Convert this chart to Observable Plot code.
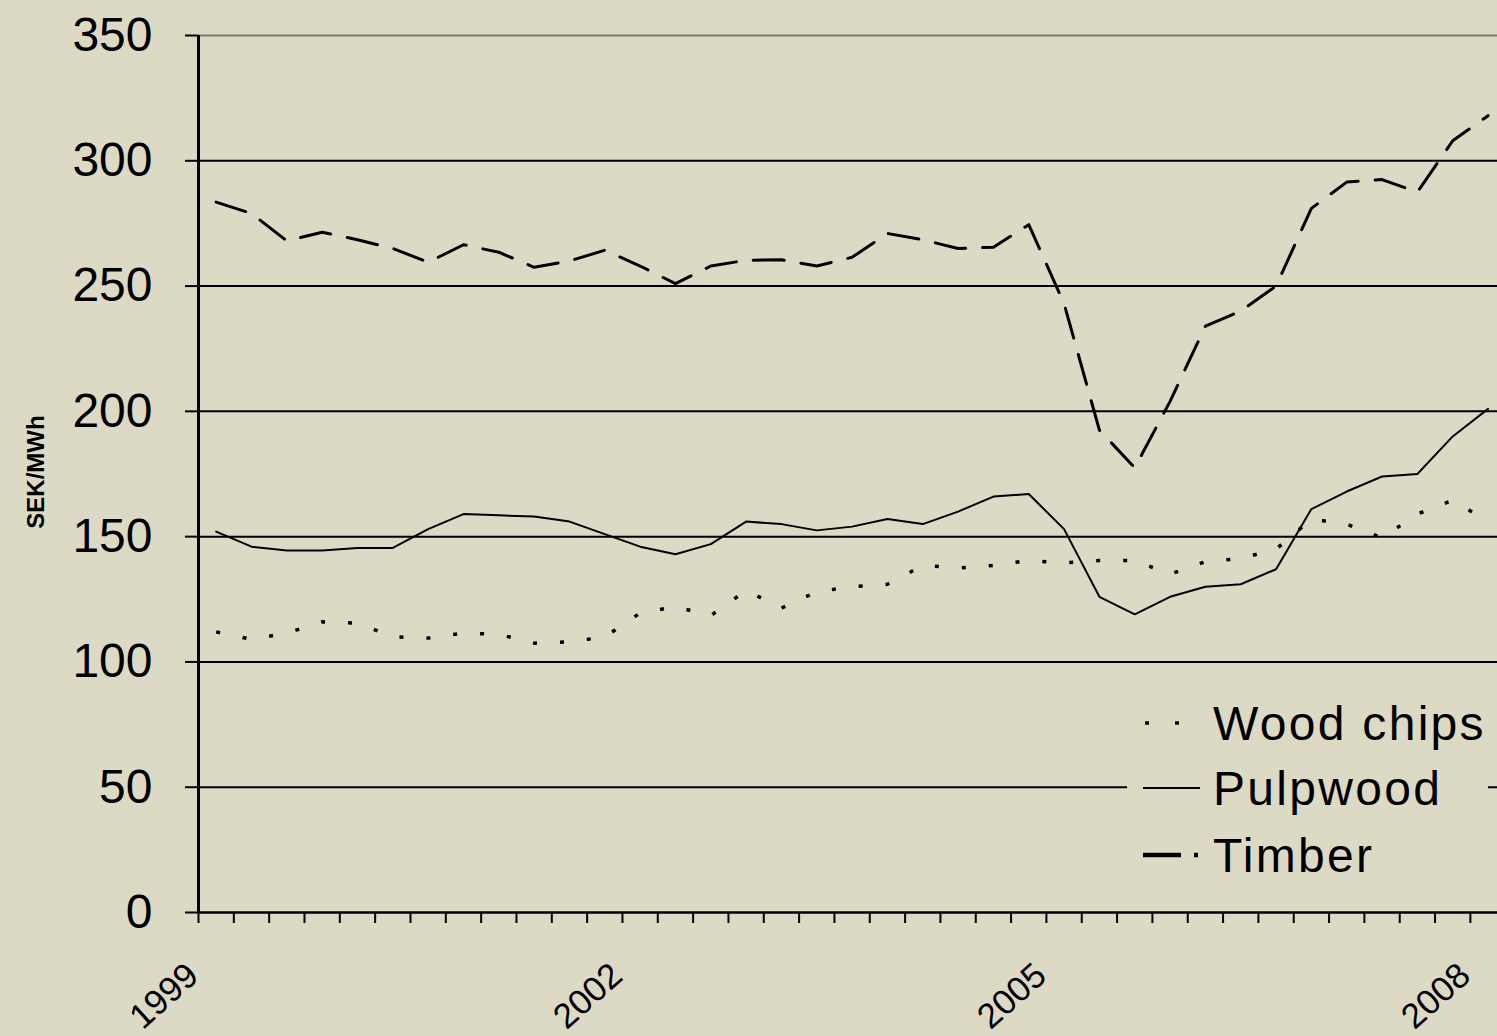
<!DOCTYPE html>
<html><head><meta charset="utf-8">
<script src="https://cdn.jsdelivr.net/npm/d3@7"></script>
<script src="https://cdn.jsdelivr.net/npm/@observablehq/plot@0.6"></script>
<style>
html,body{margin:0;padding:0;background:#dcdac5;overflow:hidden}
#chart{position:relative;width:1497px;height:1036px}
</style></head><body><div id="chart"></div>
<script>
// Quarterly index: 0 = 1999 Q1 ... 36 = 2008 Q1
const quarters = d3.range(37);
const yearLabels = ["1999", "2002", "2005", "2008"];
const yearTickQuarter = [0, 12, 24, 36];
const yTicks = [0, 50, 100, 150, 200, 250, 300, 350];
const seriesNames = ["Wood chips", "Pulpwood", "Timber"];

const woodChips = [112, 109, 111.5, 116, 115.5, 110, 109.5, 111.5, 111, 107.5, 108, 110, 119.5, 122, 118.5, 128.5, 121.5, 128, 130, 131, 138.5, 137.5, 138.5, 140.5, 139.5, 140.5, 140.5, 135, 140, 141.3, 145, 157, 155, 149.5, 159, 164.5, 156];
const pulpwood = [152, 146, 144.5, 144.5, 145.5, 145.5, 153, 159, 158.5, 158, 156, 151, 146, 143, 147, 156, 155, 152.5, 154, 157, 155, 160, 166, 167, 153, 126, 119, 126, 130, 131, 137, 161, 168, 174, 175, 190, 201];
const timber = [283.5, 279, 268, 271.5, 268.5, 265, 259.5, 266.5, 263.5, 257.5, 260, 264.3, 258, 251, 258, 260.3, 260.5, 258, 261.5, 271, 268.5, 265, 265.5, 274.5, 243, 192.5, 177.5, 204, 234, 240, 250, 281, 291.5, 292.5, 287.5, 308, 318];

const bg = "#dcdac5";
const font = "'Liberation Sans', Arial, sans-serif";
const toRows = (vals, name) => vals.map((v, i) => ({q: quarters[i] + 0.5, v, series: name}));

const plot = Plot.plot({
  width: 1497, height: 1036,
  marginLeft: 198, marginRight: 0, marginTop: 35, marginBottom: 124,
  style: {background: "transparent", fontFamily: font, color: "#000"},
  x: {domain: [0, 1299 / 35.33], axis: null},
  y: {domain: [0, 350], axis: null},
  marks: [
    Plot.ruleY(yTicks.filter(d => d > 0 && d < 350), {stroke: "#000", strokeWidth: 2}),
    Plot.ruleY([350], {stroke: "#7a7a72", strokeWidth: 2}),
    Plot.axisY({ticks: yTicks, tickSize: 13, tickPadding: 33, fontSize: 48, strokeWidth: 2, label: null, tickFormat: d => String(d)}),
    Plot.axisX({ticks: d3.range(0, 37), tickSize: 11, tickPadding: 0, strokeWidth: 2, tickFormat: () => "", label: null}),
    Plot.ruleY([0], {stroke: "#000", strokeWidth: 2.5}),
    Plot.ruleX([0], {stroke: "#000", strokeWidth: 3}),
    Plot.text(yearTickQuarter, {x: d => d, text: (d, i) => yearLabels[i], frameAnchor: "bottom", dy: 66, dx: 2, rotate: -42, textAnchor: "end", lineAnchor: "bottom", fontSize: 35}),
    Plot.text(["SEK/MWh"], {text: d => d, frameAnchor: "left", dx: -155, dy: -2, rotate: -90, fontSize: 24, fontWeight: "bold", textAnchor: "middle", lineAnchor: "bottom"}),
    Plot.line(toRows(woodChips, seriesNames[0]), {x: "q", y: "v", stroke: "#000", strokeWidth: 3.5, strokeDasharray: "4,23", strokeLinecap: "butt", clip: true}),
    Plot.line(toRows(pulpwood, seriesNames[1]), {x: "q", y: "v", stroke: "#000", strokeWidth: 2, clip: true}),
    Plot.line(toRows(timber, seriesNames[2]), {x: "q", y: "v", stroke: "#000", strokeWidth: 3, strokeDasharray: "31,17", clip: true})
  ]
});
document.getElementById("chart").appendChild(plot);

// Legend inside the plot area (lower right)
const svg = d3.select(plot);
const lg = svg.append("g").attr("font-family", font).attr("text-anchor", "start");
lg.append("rect").attr("x", 1127).attr("y", 694).attr("width", 361).attr("height", 195).attr("fill", bg);
const rowsY = [723, 788, 855];
const samples = [
  {dash: "4,26", width: 3.5, x1: 1145, x2: 1180},
  {dash: null, width: 2, x1: 1143, x2: 1200},
  {dash: "38,13,4,100", width: 4.5, x1: 1143, x2: 1200}
];
seriesNames.forEach((name, i) => {
  const s = samples[i];
  const ln = lg.append("line").attr("x1", s.x1).attr("x2", s.x2).attr("y1", rowsY[i]).attr("y2", rowsY[i])
    .attr("stroke", "#000").attr("stroke-width", s.width);
  if (s.dash) ln.attr("stroke-dasharray", s.dash);
  lg.append("text").attr("x", 1213).attr("y", rowsY[i]).attr("dy", "0.35em")
    .attr("text-anchor", "start").attr("font-size", 48).attr("letter-spacing", 2.3)
    .attr("fill", "#000").text(name);
});
</script>
</body></html>
